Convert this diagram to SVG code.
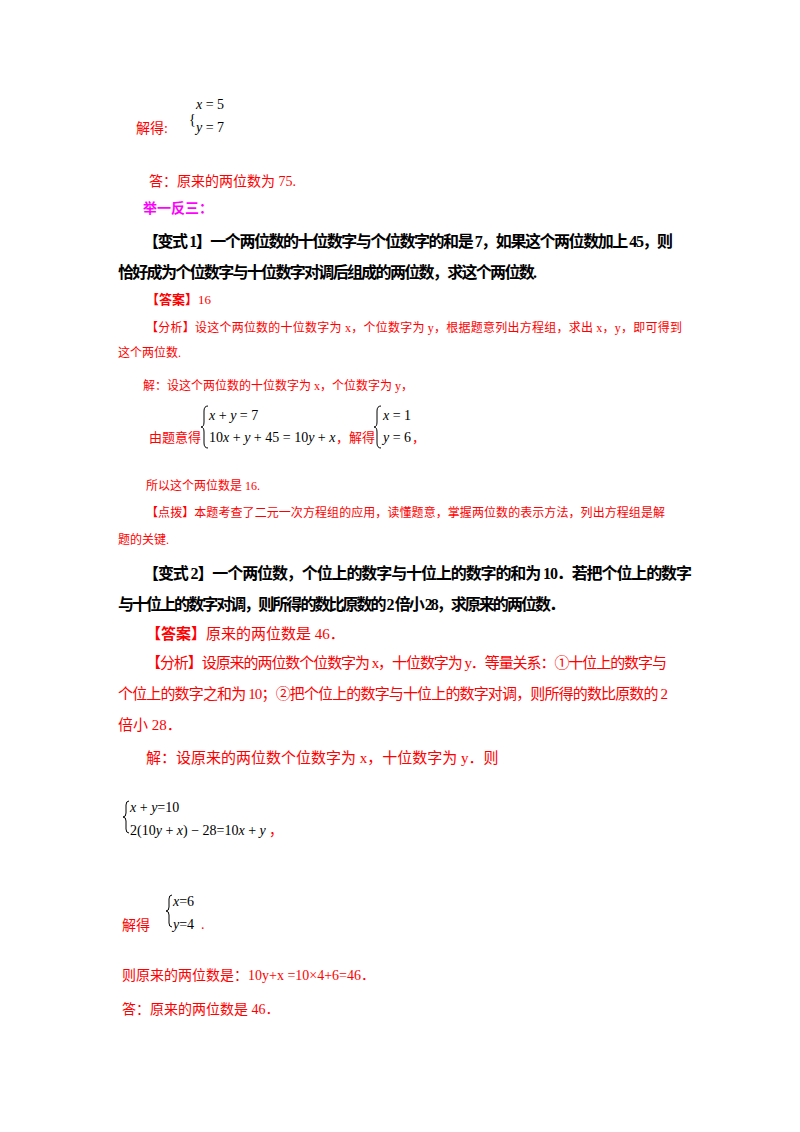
<svg xmlns="http://www.w3.org/2000/svg" width="800" height="1132" viewBox="0 0 800 1132">
<style>
text{font-family:"Liberation Serif","Noto Sans CJK SC",serif;}
.r{fill:#ff0000}
.k{fill:#000}
.b{font-weight:bold}
.m{font-style:italic}
.eq{fill:#000;font-size:14px}
</style>
<rect width="800" height="1132" fill="#fff"/>
<text x="136" y="133" class="r" font-size="14">解得:</text>
<text x="189" y="124" class="eq" font-size="14">{</text>
<text x="196" y="109" class="eq"><tspan class="m">x</tspan> = 5</text>
<text x="196" y="132" class="eq"><tspan class="m">y</tspan> = 7</text>
<text x="149" y="186" class="r" font-size="14">答：原来的两位数为 75.</text>
<text x="143" y="213" fill="#ff00ff" font-size="14" class="b">举一反三：</text>
<text x="143" y="247" class="k b" font-size="16" textLength="530">【变式 1】一个两位数的十位数字与个位数字的和是 7，如果这个两位数加上 45，则</text>
<text x="118" y="278" class="k b" font-size="16" textLength="419">恰好成为个位数字与十位数字对调后组成的两位数，求这个两位数.</text>
<text x="146" y="304" class="r" font-size="13"><tspan class="b">【答案】</tspan>16</text>
<text x="146" y="332" class="r" font-size="12" textLength="536">【分析】设这个两位数的十位数字为 x，个位数字为 y，根据题意列出方程组，求出 x，y，即可得到</text>
<text x="118" y="357" class="r" font-size="12">这个两位数.</text>
<text x="143" y="390" class="r" font-size="12">解：设这个两位数的十位数字为 x，个位数字为 y，</text>
<text x="149" y="442" class="r" font-size="13">由题意得</text>
<path d="M 208 406 q -4 0 -4 5 v 11 q 0 5 -3 5 q 3 0 3 5 v 11 q 0 5 4 5" fill="none" stroke="#000" stroke-width="1"/>
<text x="209" y="420" class="eq" font-size="15"><tspan class="m">x</tspan> + <tspan class="m">y</tspan> = 7</text>
<text x="209" y="442" class="eq" font-size="15">10<tspan class="m">x</tspan> + <tspan class="m">y</tspan> + 45 = 10<tspan class="m">y</tspan> + <tspan class="m">x</tspan></text>
<text x="336" y="442" class="r" font-size="13">，解得</text>
<path d="M 381 406 q -4 0 -4 5 v 11 q 0 5 -3 5 q 3 0 3 5 v 11 q 0 5 4 5" fill="none" stroke="#000" stroke-width="1"/>
<text x="383" y="420" class="eq" font-size="15"><tspan class="m">x</tspan> = 1</text>
<text x="383" y="442" class="eq" font-size="15"><tspan class="m">y</tspan> = 6</text>
<text x="412" y="442" class="r" font-size="13">，</text>
<text x="146" y="490" class="r" font-size="12">所以这个两位数是 16.</text>
<text x="146" y="517" class="r" font-size="12" textLength="519">【点拨】本题考查了二元一次方程组的应用，读懂题意，掌握两位数的表示方法，列出方程组是解</text>
<text x="118" y="544" class="r" font-size="12">题的关键.</text>
<text x="143" y="579" class="k b" font-size="16" textLength="549">【变式 2】一个两位数，个位上的数字与十位上的数字的和为 10．若把个位上的数字</text>
<text x="118" y="610" class="k b" font-size="16" textLength="447">与十位上的数字对调，则所得的数比原数的 2 倍小 28，求原来的两位数．</text>
<text x="146" y="639" class="r" font-size="15"><tspan class="b">【答案】</tspan>原来的两位数是 46．</text>
<text x="146" y="668" class="r" font-size="15" textLength="521">【分析】设原来的两位数个位数字为 x，十位数字为 y．等量关系：①十位上的数字与</text>
<text x="118" y="699" class="r" font-size="15" textLength="550">个位上的数字之和为 10；②把个位上的数字与十位上的数字对调，则所得的数比原数的 2</text>
<text x="118" y="730" class="r" font-size="15">倍小 28．</text>
<text x="146" y="763" class="r" font-size="15">解：设原来的两位数个位数字为 x，十位数字为 y．则</text>
<path d="M 129 801 q -3 0 -3 4 v 8 q 0 4 -3 4 q 3 0 3 4 v 8 q 0 4 3 4" fill="none" stroke="#000" stroke-width="1"/>
<text x="130" y="812" class="eq" font-size="14"><tspan class="m">x</tspan> + <tspan class="m">y</tspan>=10</text>
<text x="130" y="835" class="eq" font-size="14">2(10<tspan class="m">y</tspan> + <tspan class="m">x</tspan>) − 28=10<tspan class="m">x</tspan> + <tspan class="m">y</tspan></text>
<text x="269" y="835" class="r" font-size="14">，</text>
<text x="122" y="930" class="r" font-size="14">解得</text>
<path d="M 172 895 q -3 0 -3 4 v 8 q 0 4 -3 4 q 3 0 3 4 v 8 q 0 4 3 4" fill="none" stroke="#000" stroke-width="1"/>
<text x="173" y="906" class="eq" font-size="14"><tspan class="m">x</tspan>=6</text>
<text x="173" y="929" class="eq" font-size="14"><tspan class="m">y</tspan>=4</text>
<text x="201" y="929" class="r" font-size="14">.</text>
<text x="122" y="980" class="r" font-size="14">则原来的两位数是：10y+x =10×4+6=46．</text>
<text x="122" y="1014" class="r" font-size="14">答：原来的两位数是 46．</text>
</svg>
